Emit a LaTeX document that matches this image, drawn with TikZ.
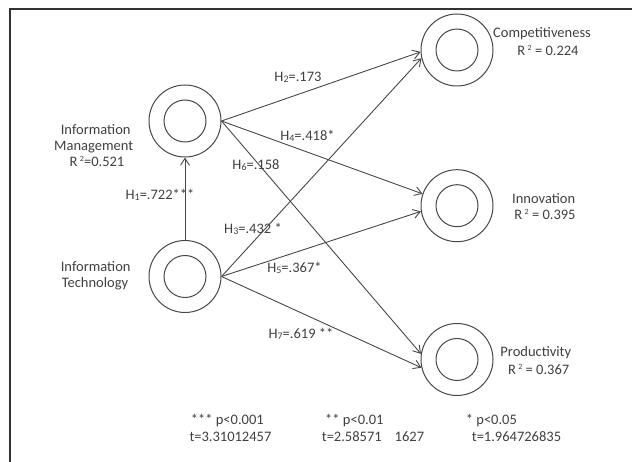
\documentclass[tikz,border=0pt]{standalone}
\usepackage{fontspec}
\setmainfont{Carlito}
\usetikzlibrary{arrows.meta}

% small digit used in the hypothesis labels (H1 ... H7)
\newcommand{\hyp}[1]{H{\fontsize{10}{10}\selectfont\raisebox{-0.8pt}{#1}}}
% R squared with a detached superscript
\newcommand{\rsq}{R\,{\fontsize{8}{8}\selectfont\raisebox{5pt}{2}}}

\begin{document}
\begin{tikzpicture}[x=1pt,y=-1pt,
  ink/.style={draw=black!72, line width=1pt},
  construct/.style={ink, circle, minimum size=72pt, inner sep=0pt},
  core/.style={ink, circle, minimum size=42pt, inner sep=0pt},
  path/.style={ink, line width=0.9pt, -{Straight Barb[length=7pt,width=9pt]}},
  txt/.style={inner sep=0pt, anchor=base, text=black!75,
              font=\fontsize{14.5}{16}\selectfont},
  frame/.style={draw=black!80, line width=2pt}
]
\useasboundingbox (0,0) rectangle (632,462);

% outer frame: left and top rules only
\coordinate (fb) at (10,462);
\coordinate (fc) at (10,9);
\coordinate (fr) at (632,9);
\draw[frame] (fb) -- (fc) -- (fr);

% constructs: outer ring with inner circle
\node[construct] (im)    at (185,121)   {};
\node[core]      (im-c)  at (im)        {};
\node[construct] (it)    at (185,276.5) {};
\node[core]      (it-c)  at (it)        {};
\node[construct] (comp)  at (457,50)    {};
\node[core]      (comp-c) at (comp)     {};
\node[construct] (inno)  at (457,205.7) {};
\node[core]      (inno-c) at (inno)     {};
\node[construct] (prod)  at (457,359.5) {};
\node[core]      (prod-c) at (prod)     {};

% construct names
\node[txt] (im-l1) at (95.7,135)  {Information};
\node[txt] (im-l2) at (93.7,150.5){Management};
\node[txt] (im-l3) at (97,167)    {\rsq=0.521};

\node[txt] (it-l1) at (95.7,271.7){Information};
\node[txt] (it-l2) at (95,288)    {Technology};

\node[txt] (comp-l1) at (542,37.5) {Competitiveness};
\node[txt] (comp-l2) at (548,56)   {\rsq\ = 0.224};

\node[txt] (inno-l1) at (543.7,203.3) {Innovation};
\node[txt] (inno-l2) at (545,220)     {\rsq\ = 0.395};

\node[txt] (prod-l1) at (535.8,356) {Productivity};
\node[txt] (prod-l2) at (538.7,374) {\rsq\ = 0.367};

% structural paths
\draw[path] (it.north) -- (im.south);
\draw[path] (im.east) -- (comp.183.2);
\draw[path] (it.east) -- (comp.193.3);
\draw[path] (im.east) -- (inno.161);
\draw[path] (it.east) -- (inno.189.6);
\draw[path] (im.east) -- (prod.171.2);
\draw[path] (it.east) -- (prod.193.7);

% path coefficients
\node[txt] (h1) at (160,200)   {\hyp{1}=.722***};
\node[txt] (h2) at (298,81.7)  {\hyp{2}=.173};
\node[txt] (h3) at (253,234)   {\hyp{3}=.432 *};
\node[txt] (h4) at (307.5,140.7) {\hyp{4}=.418*};
\node[txt] (h5) at (294.5,272.3) {\hyp{5}=.367*};
\node[txt] (h6) at (256,169.3) {\hyp{6}=.158};
\node[txt] (h7) at (301,339)   {\hyp{7}=.619 **};

% significance legend
\node[txt, anchor=base west] (s1a) at (190.7,424)   {*** p<0.001};
\node[txt, anchor=base west] (s1b) at (189.3,441.7) {t=3.31012457};
\node[txt, anchor=base west] (s2a) at (325,424)     {** p<0.01};
\node[txt, anchor=base west] (s2b) at (321.7,441.7) {t=2.58571\hspace{13pt}1627};
\node[txt, anchor=base west] (s3a) at (465.7,424)   {* p<0.05};
\node[txt, anchor=base west] (s3b) at (471.7,441.7) {t=1.964726835};
\end{tikzpicture}
\end{document}
